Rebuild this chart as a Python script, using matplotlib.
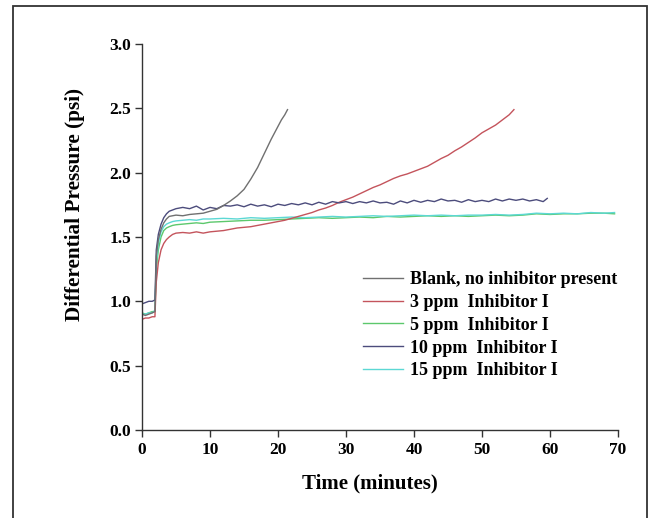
import matplotlib
matplotlib.use('Agg')
import matplotlib.pyplot as plt
from matplotlib.patches import Rectangle

# --- data (time in minutes, pressure in psi) ---
t_blank = [0, 0.5, 1, 1.5, 1.9, 2.1, 2.4, 2.8, 3.2, 3.6, 4, 4.5, 5, 6, 7, 8, 9, 10,
           11, 12, 13, 14, 15, 16, 17, 18, 19, 20, 20.5, 21, 21.4]
p_blank = [0.90, 0.89, 0.90, 0.91, 0.92, 1.35, 1.48, 1.56, 1.61, 1.64, 1.66, 1.665, 1.67,
           1.665, 1.675, 1.68, 1.685, 1.70, 1.715, 1.745, 1.78, 1.82, 1.87, 1.95, 2.04,
           2.15, 2.26, 2.36, 2.41, 2.45, 2.49]

t_3ppm = [0, 0.5, 1, 1.5, 1.9, 2.1, 2.4, 2.8, 3.2, 3.6, 4, 4.5, 5, 6, 7, 8, 9, 10, 11, 12,
          13, 14, 15, 16, 17, 18, 19, 20, 21, 22, 23, 24, 25, 26, 27, 28, 29, 30, 31, 32,
          33, 34, 35, 36, 37, 38, 39, 40, 41, 42, 43, 44, 45, 46, 47, 48, 49, 50, 51, 52,
          53, 54, 54.7]
p_3ppm = [0.86, 0.87, 0.87, 0.88, 0.88, 1.15, 1.30, 1.40, 1.45, 1.48, 1.50, 1.52, 1.53,
          1.535, 1.53, 1.54, 1.53, 1.54, 1.545, 1.55, 1.56, 1.57, 1.575, 1.58, 1.59, 1.60,
          1.61, 1.62, 1.63, 1.645, 1.66, 1.675, 1.69, 1.71, 1.725, 1.745, 1.77, 1.79, 1.81,
          1.835, 1.86, 1.885, 1.905, 1.93, 1.955, 1.975, 1.99, 2.01, 2.03, 2.05, 2.08, 2.11,
          2.135, 2.17, 2.20, 2.235, 2.27, 2.31, 2.34, 2.37, 2.41, 2.45, 2.49]

t_5ppm = [0, 0.5, 1, 1.5, 1.9, 2.1, 2.4, 2.8, 3.2, 3.6, 4, 4.5, 5, 6, 7, 8, 9, 10, 12, 14,
          16, 18, 20, 22, 24, 26, 28, 30, 32, 34, 36, 38, 40, 42, 44, 46, 48, 50, 52, 54,
          56, 58, 60, 62, 64, 66, 68, 69.5]
p_5ppm = [0.91, 0.90, 0.91, 0.92, 0.92, 1.25, 1.40, 1.50, 1.55, 1.57, 1.58, 1.59, 1.595,
          1.60, 1.605, 1.61, 1.605, 1.615, 1.62, 1.625, 1.63, 1.63, 1.635, 1.64, 1.645,
          1.65, 1.645, 1.65, 1.655, 1.65, 1.66, 1.655, 1.66, 1.665, 1.66, 1.665, 1.66,
          1.665, 1.67, 1.665, 1.67, 1.68, 1.675, 1.68, 1.68, 1.685, 1.685, 1.68]

t_10ppm = [0, 0.5, 1, 1.5, 1.9, 2.1, 2.4, 2.8, 3.2, 3.6, 4, 4.5, 5, 6, 7, 8, 9, 10, 11, 12,
           13, 14, 15, 16, 17, 18, 19, 20, 21, 22, 23, 24, 25, 26, 27, 28, 29, 30, 31, 32,
           33, 34, 35, 36, 37, 38, 39, 40, 41, 42, 43, 44, 45, 46, 47, 48, 49, 50, 51, 52,
           53, 54, 55, 56, 57, 58, 59, 59.6]
p_10ppm = [0.98, 0.99, 1.00, 1.00, 1.01, 1.40, 1.52, 1.60, 1.65, 1.68, 1.70, 1.71, 1.72,
           1.73, 1.72, 1.74, 1.71, 1.73, 1.72, 1.745, 1.74, 1.75, 1.735, 1.755, 1.74, 1.75,
           1.735, 1.755, 1.745, 1.76, 1.75, 1.765, 1.75, 1.77, 1.755, 1.775, 1.765, 1.775,
           1.76, 1.775, 1.765, 1.78, 1.765, 1.77, 1.755, 1.78, 1.765, 1.785, 1.77, 1.785,
           1.775, 1.795, 1.78, 1.785, 1.77, 1.79, 1.775, 1.785, 1.775, 1.795, 1.78, 1.795,
           1.785, 1.795, 1.78, 1.79, 1.775, 1.80]

t_15ppm = [0, 0.5, 1, 1.5, 1.9, 2.1, 2.4, 2.8, 3.2, 3.6, 4, 4.5, 5, 6, 7, 8, 9, 10, 12, 14,
           16, 18, 20, 22, 24, 26, 28, 30, 32, 34, 36, 38, 40, 42, 44, 46, 48, 50, 52, 54,
           56, 58, 60, 62, 64, 66, 68, 69.5]
p_15ppm = [0.90, 0.90, 0.91, 0.91, 0.93, 1.30, 1.45, 1.54, 1.58, 1.60, 1.61, 1.62, 1.625,
           1.63, 1.635, 1.63, 1.64, 1.64, 1.645, 1.64, 1.65, 1.645, 1.65, 1.655, 1.65,
           1.655, 1.66, 1.655, 1.66, 1.665, 1.66, 1.665, 1.67, 1.665, 1.67, 1.665, 1.67,
           1.67, 1.675, 1.67, 1.675, 1.685, 1.68, 1.685, 1.68, 1.69, 1.685, 1.69]

labels = ['Blank, no inhibitor present', '3 ppm  Inhibitor I', '5 ppm  Inhibitor I',
          '10 ppm  Inhibitor I', '15 ppm  Inhibitor I']
colors = ['#707070', '#c4545c', '#5cc86c', '#4c4c7c', '#5cd8d4']
x_ticks = [0, 10, 20, 30, 40, 50, 60, 70]
y_ticks = [0.0, 0.5, 1.0, 1.5, 2.0, 2.5, 3.0]

series = [(t_blank, p_blank), (t_3ppm, p_3ppm), (t_5ppm, p_5ppm),
          (t_10ppm, p_10ppm), (t_15ppm, p_15ppm)]
#---
serif = ['Liberation Serif', 'DejaVu Serif']

fig = plt.figure(figsize=(6.52, 5.18), dpi=100)
ax = fig.add_axes([0.2178, 0.170, 0.730, 0.745])

# draw plateau lines underneath, blank on top
order = [2, 4, 1, 3, 0]
lines = {}
for i in order:
    t, p = series[i]
    lines[i], = ax.plot(t, p, color=colors[i], lw=1.0, label=labels[i])

ax.set_xlim(0, 70)
ax.set_ylim(0, 3.0)
ax.set_xticks(x_ticks)
ax.set_yticks(y_ticks)
ax.set_xticklabels([str(v) for v in x_ticks], family=serif, weight='bold', fontsize=12.5)
ax.set_yticklabels(['%.1f' % v for v in y_ticks], family=serif, weight='bold', fontsize=12.5)
ax.tick_params(direction='out', length=5, width=1, color='#333333')
ax.tick_params(axis='x', pad=4)
ax.tick_params(axis='y', pad=3)

for s in ['top', 'right']:
    ax.spines[s].set_visible(False)
for s in ['left', 'bottom']:
    ax.spines[s].set_linewidth(1.0)
    ax.spines[s].set_color('#333333')

ax.set_xlabel('Time (minutes)', family=serif, weight='bold', fontsize=15)
ax.xaxis.set_label_coords(0.479, -0.114)
ax.set_ylabel('Differential Pressure (psi)', family=serif, weight='bold', fontsize=15.3)
ax.yaxis.set_label_coords(-0.12, 0.583)

leg = ax.legend([lines[i] for i in range(5)], labels, frameon=False,
                loc='upper left', bbox_to_anchor=(0.45, 0.43),
                prop={'family': serif, 'weight': 'bold', 'size': 13},
                handlelength=2.2, handletextpad=0.4, labelspacing=0.32, borderaxespad=0)

# thin border round the whole picture, open at the bottom
fig.add_artist(Rectangle((0.02, -0.05), 0.972, 1.038, transform=fig.transFigure,
                         fill=False, lw=1.3, ec='#333333'))

fig.savefig('out.png', dpi=100)
